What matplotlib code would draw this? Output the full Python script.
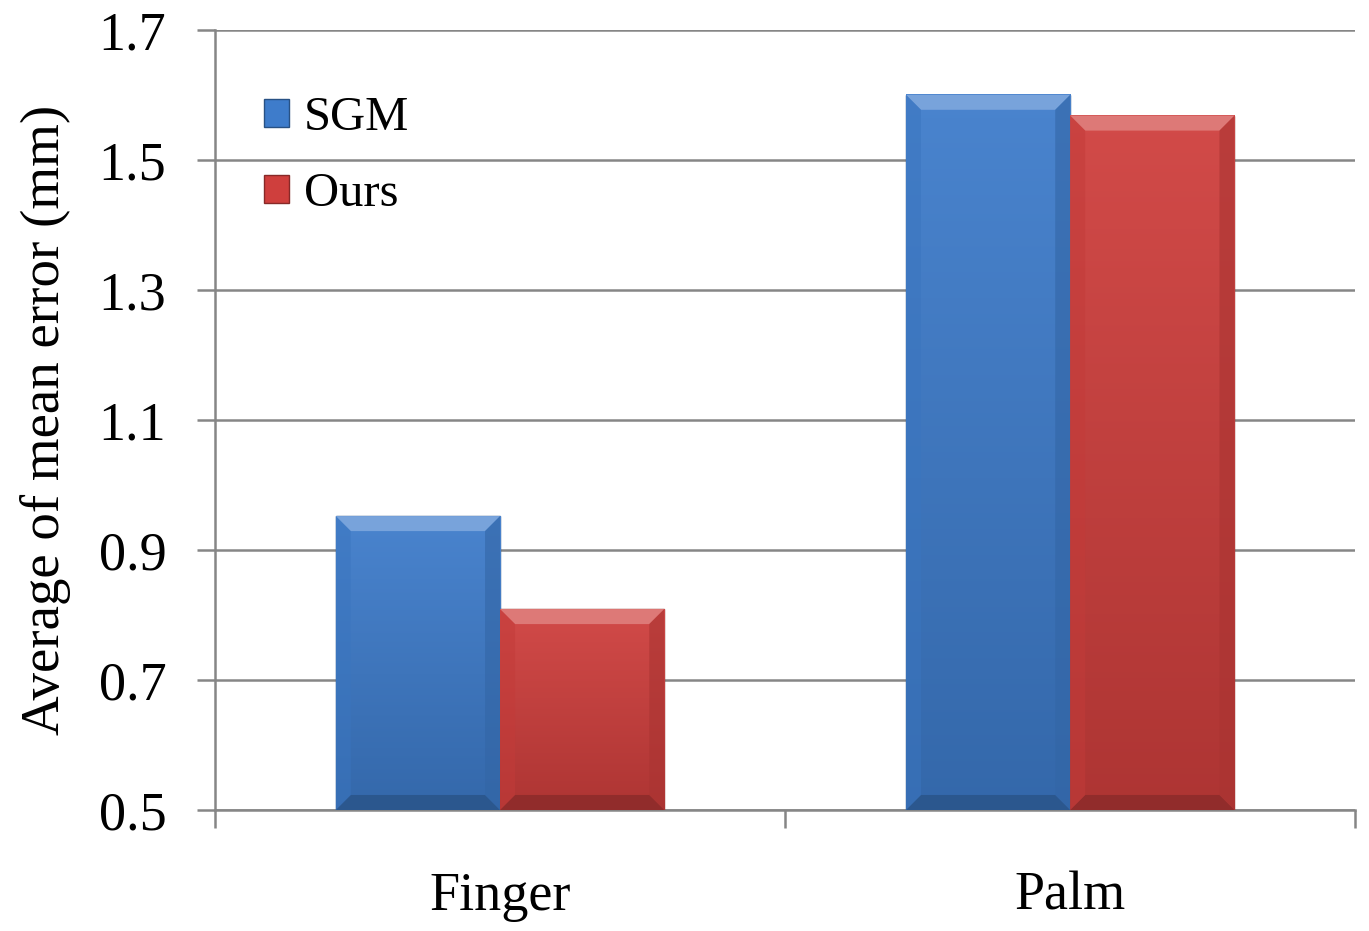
import numpy as np
import matplotlib
matplotlib.use("Agg")
from matplotlib import pyplot as plt
from matplotlib.patches import Patch, Polygon
from matplotlib.colors import to_rgb

# datos
categorias = ["Finger", "Palm"]
series = ["SGM", "Ours"]
sgm = [0.952, 1.600]
ours = [0.809, 1.568]
yticks = [0.5, 0.7, 0.9, 1.1, 1.3, 1.5, 1.7]

azul = "#3e7ccb"
rojo = "#cf3f3d"

plt.rcParams['font.family'] = ['Liberation Serif', 'DejaVu Serif']

fig = plt.figure(figsize=(13.69, 9.31), dpi=100)
ax = fig.add_axes([0.157, 0.130, 0.833, 0.838])

x = np.arange(len(categorias))
ancho = 0.288
b1 = ax.bar(x - ancho / 2, sgm, ancho, bottom=0, color=azul, zorder=3)
b2 = ax.bar(x + ancho / 2, ours, ancho, bottom=0, color=rojo, zorder=3)

ax.set_ylim(0.5, 1.7)
ax.set_xlim(-0.5, 1.5)


def aclarar(c, f):
    r, g, b = to_rgb(c)
    return (r + (1 - r) * f, g + (1 - g) * f, b + (1 - b) * f)


def oscurecer(c, f):
    r, g, b = to_rgb(c)
    return (r * (1 - f), g * (1 - f), b * (1 - f))


def biselar(barras, color):
    # degradado vertical + bisel en los bordes de cada barra
    fig.canvas.draw()
    inv = ax.transData.inverted()
    for p in barras:
        x0, x1 = p.get_x(), p.get_x() + p.get_width()
        y0, y1 = 0.5, p.get_height()
        grad = np.linspace(0, 1, 256)[:, None]
        top = np.array(aclarar(color, 0.06))
        bot = np.array(oscurecer(color, 0.16))
        img = top[None, None, :] * (1 - grad[..., None]) + bot[None, None, :] * grad[..., None]
        img = np.repeat(img, 2, axis=1)
        ax.imshow(img, extent=[x0, x1, y0, y1], aspect='auto', zorder=4,
                  clip_path=p, clip_on=True, interpolation='bilinear')
        # bisel de 15 px en coordenadas de pantalla
        (px0, py0) = ax.transData.transform((x0, y0))
        (px1, py1) = ax.transData.transform((x1, y1))
        d = 15
        def dat(pts):
            return inv.transform(np.array(pts))
        arriba = dat([(px0, py1), (px1, py1), (px1 - d, py1 - d), (px0 + d, py1 - d)])
        abajo = dat([(px0, py0), (px1, py0), (px1 - d, py0 + d), (px0 + d, py0 + d)])
        izq = dat([(px0, py0), (px0, py1), (px0 + d, py1 - d), (px0 + d, py0 + d)])
        der = dat([(px1, py0), (px1, py1), (px1 - d, py1 - d), (px1 - d, py0 + d)])
        ax.add_patch(Polygon(arriba, closed=True, fc=aclarar(color, 0.3), ec='none', zorder=5))
        ax.add_patch(Polygon(abajo, closed=True, fc=oscurecer(color, 0.3), ec='none', zorder=5))
        ax.add_patch(Polygon(izq, closed=True, fc=oscurecer(color, 0.06), ec='none', alpha=0.5, zorder=5))
        ax.add_patch(Polygon(der, closed=True, fc=oscurecer(color, 0.18), ec='none', alpha=0.6, zorder=5))
        p.set_edgecolor(oscurecer(color, 0.35))
        p.set_linewidth(1.0)


biselar(b1, azul)
biselar(b2, rojo)

gris = "#868686"
ax.set_yticks(yticks)
ax.set_yticklabels([f"{v:.1f}" for v in yticks])
ax.grid(axis='y', color=gris, linewidth=1.8, zorder=0)
ax.set_axisbelow(True)

ax.set_xticks(x)
ax.set_xticklabels(categorias)
ax.set_xticks([-0.5, 0.5, 1.5], minor=True)
ax.tick_params(axis='x', which='major', length=0, pad=44, labelsize=39)
ax.tick_params(axis='x', which='minor', length=13, width=1.8, color=gris)
ax.tick_params(axis='y', length=13, width=1.8, color=gris, pad=22, labelsize=39)

for s in ['top', 'right']:
    ax.spines[s].set_visible(False)
for s in ['left', 'bottom']:
    ax.spines[s].set_color(gris)
    ax.spines[s].set_linewidth(1.8)

ax.set_ylabel("Average of mean error (mm)", fontsize=39.5, labelpad=20)

manijas = [Patch(facecolor=azul, edgecolor=oscurecer(azul, 0.35)),
           Patch(facecolor=rojo, edgecolor=oscurecer(rojo, 0.35))]
ax.legend(manijas, series, loc='upper left', bbox_to_anchor=(0.026, 0.94),
          frameon=False, fontsize=35, handlelength=0.52, handleheight=0.52,
          handletextpad=0.3, labelspacing=0.66, borderaxespad=0)

fig.savefig("out.png", dpi=100)
